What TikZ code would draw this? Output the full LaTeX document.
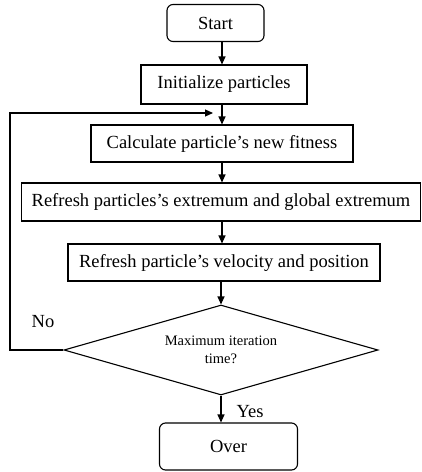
\documentclass[tikz,border=0pt]{standalone}
\usepackage{fontspec}
\setmainfont{Liberation Serif}
\usetikzlibrary{shapes.geometric,arrows.meta}
\begin{document}
\begin{tikzpicture}[x=1pt,y=-1pt,
  box/.style={draw,line width=1.1pt,inner sep=0pt,font=\fontsize{18.5}{22}\selectfont},
  rbox/.style={box,rounded corners=6pt},
  dec/.style={draw,line width=1.1pt,shape=diamond,aspect=3.49,inner sep=0pt,
    minimum width=314pt,minimum height=90pt,align=center,font=\fontsize{14.5}{18}\selectfont},
  arr/.style={line width=1.1pt,-{Triangle[length=8pt,width=7pt]}},
  lbl/.style={font=\fontsize{18.5}{22}\selectfont,inner sep=0pt}]
\useasboundingbox (0,0) rectangle (422,472);
\node[rbox,minimum width=97pt,minimum height=37pt] (start) at (215.5,23) {Start};
\node[box,minimum width=166pt,minimum height=39pt] (init) at (224,84.5) {Initialize particles};
\node[box,minimum width=262pt,minimum height=37pt] (calc) at (222,143.5) {Calculate particle’s new fitness};
\node[box,minimum width=399pt,minimum height=38pt] (ref1) at (221,202) {Refresh particles’s extremum and global extremum};
\node[box,minimum width=312pt,minimum height=37pt] (ref2) at (224,262.5) {Refresh particle’s velocity and position};
\node[dec] (dec) at (221,350) {Maximum iteration\\time?};
\node[rbox,minimum width=138pt,minimum height=47pt] (over) at (228.5,446.5) {Over};
\coordinate (ax) at (222,0);
\coordinate (lx) at (10,0);
\coordinate (ly) at (0,113);
\coordinate (lt) at (213,113);
\draw[arr] (start.south -| ax) -- (init.north -| ax);
\draw[arr] (init.south -| ax) -- (calc.north -| ax);
\draw[arr] (calc.south -| ax) -- (ref1.north -| ax);
\draw[arr] (ref1.south -| ax) -- (ref2.north -| ax);
\draw[arr] (ref2.south -| dec.north) -- (dec.north);
\draw[arr] (dec.south) -- (over.north -| dec.south);
\draw[arr] (dec.west) -- (dec.west -| lx) -- (lx |- ly) -- (lt);
\node[lbl] (no) at (43,322) {No};
\node[lbl] (yes) at (250,412) {Yes};
\end{tikzpicture}
\end{document}
